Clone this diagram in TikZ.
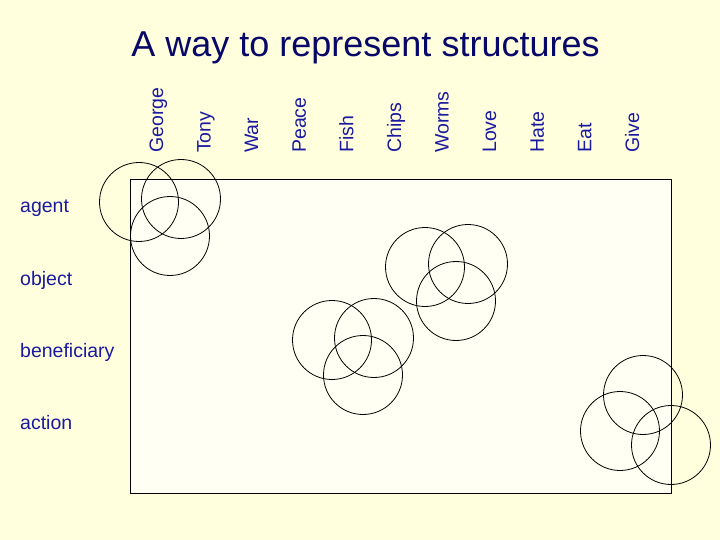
\documentclass[tikz,border=0pt]{standalone}
\usepackage{fontspec}
\setmainfont{Liberation Sans}
\definecolor{bg}{RGB}{255,255,221}
\definecolor{panel}{RGB}{255,255,243}
\definecolor{lbl}{RGB}{26,26,160}
\definecolor{ttl}{RGB}{8,8,104}
\begin{document}
\begin{tikzpicture}[x=1pt,y=-1pt,
  ring/.style={circle,draw=black,line width=0.8pt,minimum size=79pt,inner sep=0pt},
  collbl/.style={text=lbl,font=\fontsize{19.5}{20}\selectfont,rotate=90,anchor=base west,inner sep=0pt},
  rowlbl/.style={text=lbl,font=\fontsize{19.5}{20}\selectfont,anchor=base west,inner sep=0pt}]
\fill[bg] (0,0) rectangle (720,540);
\useasboundingbox (0,0) rectangle (720,540);
\node[draw=black,line width=1pt,fill=panel,minimum width=541pt,minimum height=314pt,inner sep=0pt,anchor=north west] (frame) at (130,179) {};
\node[anchor=base,text=ttl,font=\fontsize{36}{40}\selectfont,inner sep=0pt] (title) at (365.5,57) {A way to represent structures};
\foreach \t [count=\i from 0] in {George,Tony,War,Peace,Fish,Chips,Worms,Love,Hate,Eat,Give}
  \node[collbl] (col\i) at ({163+47.6*\i},153) {\t};
\node[rowlbl] (agent) at (20,213) {agent};
\node[rowlbl] (object) at (20,285) {object};
\node[rowlbl] (benef) at (20,357) {beneficiary};
\node[rowlbl] (action) at (20,429) {action};
\node[ring] (a1) at (139,202) {};
\node[ring] (a2) at (181,199) {};
\node[ring] (a3) at (170,236) {};
\node[ring] (b1) at (332,340) {};
\node[ring] (b2) at (374,338) {};
\node[ring] (b3) at (363,375) {};
\node[ring] (c1) at (425,267) {};
\node[ring] (c2) at (468,264) {};
\node[ring] (c3) at (456,301) {};
\node[ring] (d1) at (643,395) {};
\node[ring] (d2) at (620,431) {};
\node[ring] (d3) at (671,445) {};
\end{tikzpicture}
\end{document}
